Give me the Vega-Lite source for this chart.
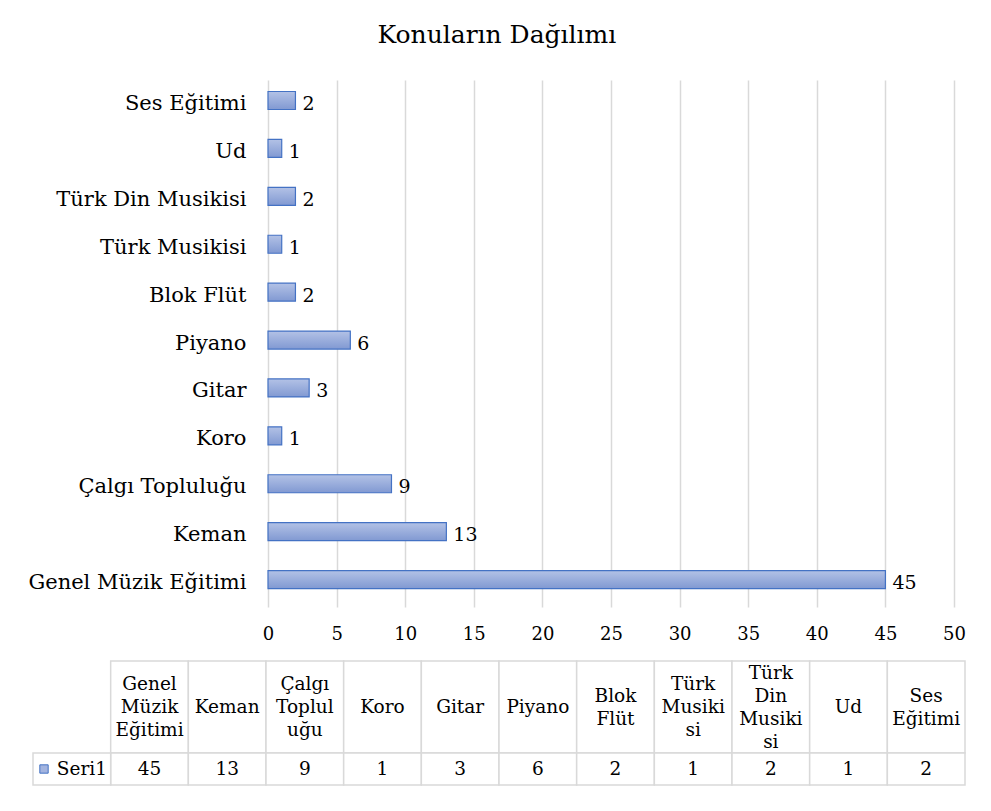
{
  "$schema": "https://vega.github.io/schema/vega-lite/v6.json",
  "padding": {"left": 27, "top": 23, "right": 20, "bottom": 20},
  "background": "white",
  "title": {"text": "Konuların Dağılımı", "fontSize": 25, "fontWeight": "normal", "color": "#000", "anchor": "middle", "frame": "bounds", "offset": 32},
  "datasets": {
    "d": [
      {"cat": "Genel Müzik Eğitimi", "value": 45, "tlabel": "Genel\nMüzik\nEğitimi"},
      {"cat": "Keman", "value": 13, "tlabel": "Keman"},
      {"cat": "Çalgı Topluluğu", "value": 9, "tlabel": "Çalgı\nToplul\nuğu"},
      {"cat": "Koro", "value": 1, "tlabel": "Koro"},
      {"cat": "Gitar", "value": 3, "tlabel": "Gitar"},
      {"cat": "Piyano", "value": 6, "tlabel": "Piyano"},
      {"cat": "Blok Flüt", "value": 2, "tlabel": "Blok\nFlüt"},
      {"cat": "Türk Musikisi", "value": 1, "tlabel": "Türk\nMusiki\nsi"},
      {"cat": "Türk Din Musikisi", "value": 2, "tlabel": "Türk\nDin\nMusiki\nsi"},
      {"cat": "Ud", "value": 1, "tlabel": "Ud"},
      {"cat": "Ses Eğitimi", "value": 2, "tlabel": "Ses\nEğitimi"}
    ]
  },
  "spacing": 13,
  "vconcat": [
    {
      "width": 686,
      "height": 527,
      "data": {"name": "d"},
      "encoding": {
        "y": {
          "field": "cat", "type": "nominal", "title": null,
          "sort": ["Ses Eğitimi", "Ud", "Türk Din Musikisi", "Türk Musikisi", "Blok Flüt", "Piyano", "Gitar", "Koro", "Çalgı Topluluğu", "Keman", "Genel Müzik Eğitimi"],
          "scale": {"paddingInner": 0.48, "paddingOuter": 0.24},
          "axis": {"domain": false, "ticks": false, "grid": false, "labelFontSize": 21, "labelColor": "#000", "labelPadding": 22, "minExtent": 235, "maxExtent": 235, "labelLimit": 300}
        },
        "x": {
          "field": "value", "type": "quantitative", "title": null,
          "scale": {"domain": [0, 50], "nice": false},
          "axis": {"values": [0, 5, 10, 15, 20, 25, 30, 35, 40, 45, 50], "grid": true, "gridColor": "#d9d9d9", "gridWidth": 1.5, "domain": false, "ticks": false, "labelFontSize": 18, "labelColor": "#000", "labelPadding": 18, "labelFlush": false, "minExtent": 40, "maxExtent": 40}
        }
      },
      "layer": [
        {
          "mark": {
            "type": "bar",
            "fill": {"gradient": "linear", "x1": 0, "y1": 0, "x2": 0, "y2": 1, "stops": [{"offset": 0, "color": "#b3c2e6"}, {"offset": 1, "color": "#8199d2"}]},
            "stroke": "#4472C4",
            "strokeWidth": 1.2
          }
        },
        {
          "mark": {"type": "text", "align": "left", "baseline": "middle", "dx": 7, "fontSize": 19, "color": "#000"},
          "encoding": {"text": {"field": "value", "type": "quantitative"}}
        }
      ]
    },
    {
      "spacing": 0,
      "bounds": "flush",
      "vconcat": [
        {
          "width": 697,
          "height": 92,
          "data": {"name": "d"},
          "encoding": {
            "x": {
              "field": "cat", "type": "nominal", "title": null, "axis": null,
              "scale": {"domain": ["__", "Genel Müzik Eğitimi", "Keman", "Çalgı Topluluğu", "Koro", "Gitar", "Piyano", "Blok Flüt", "Türk Musikisi", "Türk Din Musikisi", "Ud", "Ses Eğitimi"], "range": [-235, 697], "paddingInner": 0, "paddingOuter": 0}
            }
          },
          "layer": [
            {"mark": {"type": "rect", "fill": "white", "stroke": "#d9d9d9", "strokeWidth": 1.5}},
            {
              "transform": [{"calculate": "length(split(datum.tlabel, '\\n'))", "as": "nl"}],
              "mark": {"type": "text", "align": "center", "baseline": "middle", "lineBreak": "\n", "lineHeight": 23, "fontSize": 18.5, "color": "#000"},
              "encoding": {
                "text": {"field": "tlabel"},
                "yOffset": {"field": "nl", "type": "quantitative", "scale": {"domain": [1, 4], "range": [0, -34.5]}}
              }
            }
          ]
        },
        {
          "width": 697,
          "height": 32,
          "encoding": {
            "x": {
              "field": "cat", "type": "nominal", "title": null, "axis": null,
              "scale": {"domain": ["__", "Genel Müzik Eğitimi", "Keman", "Çalgı Topluluğu", "Koro", "Gitar", "Piyano", "Blok Flüt", "Türk Musikisi", "Türk Din Musikisi", "Ud", "Ses Eğitimi"], "range": [-235, 697], "paddingInner": 0, "paddingOuter": 0}
            }
          },
          "layer": [
            {
              "data": {"name": "d"},
              "mark": {"type": "rect", "fill": "white", "stroke": "#d9d9d9", "strokeWidth": 1.5}
            },
            {
              "data": {"name": "d"},
              "mark": {"type": "text", "align": "center", "baseline": "middle", "fontSize": 18.5, "color": "#000"},
              "encoding": {"text": {"field": "value", "type": "quantitative"}}
            },
            {
              "data": {"values": [{"cat": "__", "name": "Seri1"}]},
              "mark": {"type": "rect", "fill": "white", "stroke": "#d9d9d9", "strokeWidth": 1.5}
            },
            {
              "data": {"values": [{"cat": "__", "name": "Seri1"}]},
              "mark": {"type": "text", "align": "left", "baseline": "middle", "dx": -15, "fontSize": 18.5, "color": "#000"},
              "encoding": {"text": {"field": "name"}}
            },
            {
              "data": {"values": [{"cat": "__", "name": "Seri1"}]},
              "mark": {"type": "point", "shape": "square", "filled": true, "size": 70, "fill": "#a3b4df", "stroke": "#4472C4", "strokeWidth": 1, "opacity": 1},
              "encoding": {"xOffset": {"value": 11}}
            }
          ]
        }
      ]
    }
  ],
  "config": {
    "view": {"stroke": null},
    "font": "DejaVu Serif"
  }
}
